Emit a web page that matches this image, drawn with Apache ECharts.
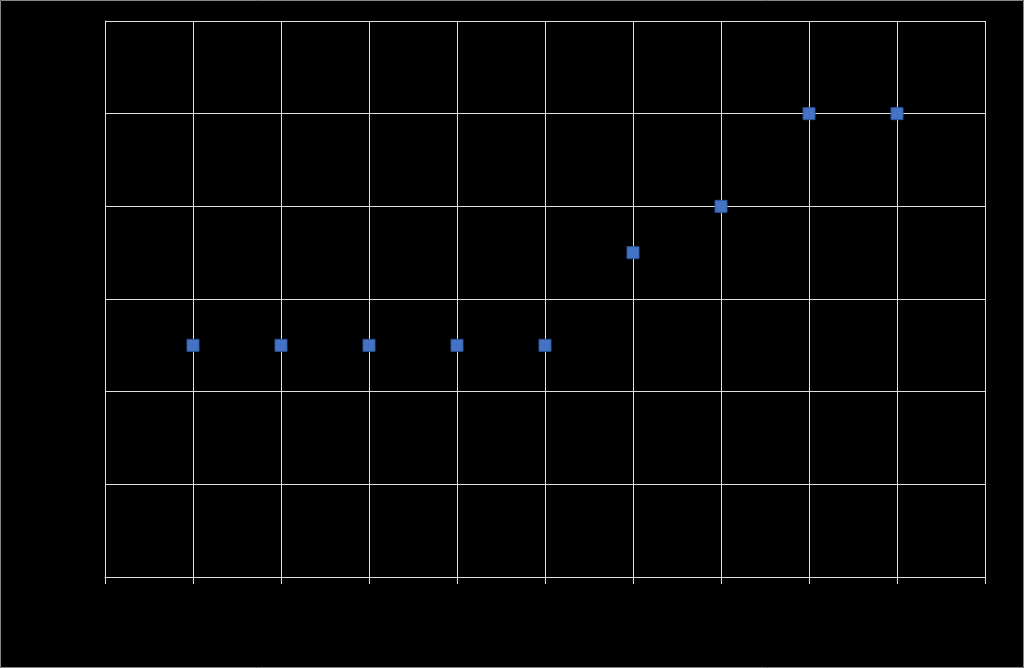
<!DOCTYPE html>
<html><head><meta charset="utf-8">
<script src="https://cdn.jsdelivr.net/npm/echarts@6/dist/echarts.min.js"></script>
<style>html,body{margin:0;padding:0;background:#000;}#c{width:1024px;height:668px;}</style>
</head><body><div id="c"></div>
<script>
const xValues = [1, 2, 3, 4, 5, 6, 7, 8, 9];
const yValues = [2.5, 2.5, 2.5, 2.5, 2.5, 3.5, 4, 5, 5];
const points = xValues.map((x, i) => [x, yValues[i]]);
const chart = echarts.init(document.getElementById('c'));
chart.setOption({
  backgroundColor: '#000',
  animation: false,
  graphic: [{type: 'rect', shape: {x: 0.5, y: 0.5, width: 1023, height: 667}, style: {fill: 'none', stroke: '#888', lineWidth: 1}}],
  grid: {left: 105, right: 39, top: 21, bottom: 91, containLabel: false},
  xAxis: {
    type: 'value', min: 0, max: 10, interval: 1,
    axisLine: {show: true, lineStyle: {color: '#e0e0e0', width: 1}},
    axisTick: {show: true, length: 7, lineStyle: {color: '#e0e0e0'}},
    splitLine: {show: true, lineStyle: {color: '#e0e0e0', width: 1}},
    axisLabel: {color: '#000', fontFamily: 'Liberation Sans', fontSize: 12}
  },
  yAxis: {
    type: 'value', min: 0, max: 6, interval: 1,
    axisLine: {show: true, lineStyle: {color: '#e0e0e0', width: 1}},
    axisTick: {show: false},
    splitLine: {show: true, lineStyle: {color: '#e0e0e0', width: 1}},
    axisLabel: {color: '#000', fontFamily: 'Liberation Sans', fontSize: 12}
  },
  series: [{
    type: 'scatter', data: points, symbol: 'rect', symbolSize: 12,
    itemStyle: {color: '#4472C4', borderColor: '#2F5597', borderWidth: 1, opacity: 1}
  }]
});
</script></body></html>
